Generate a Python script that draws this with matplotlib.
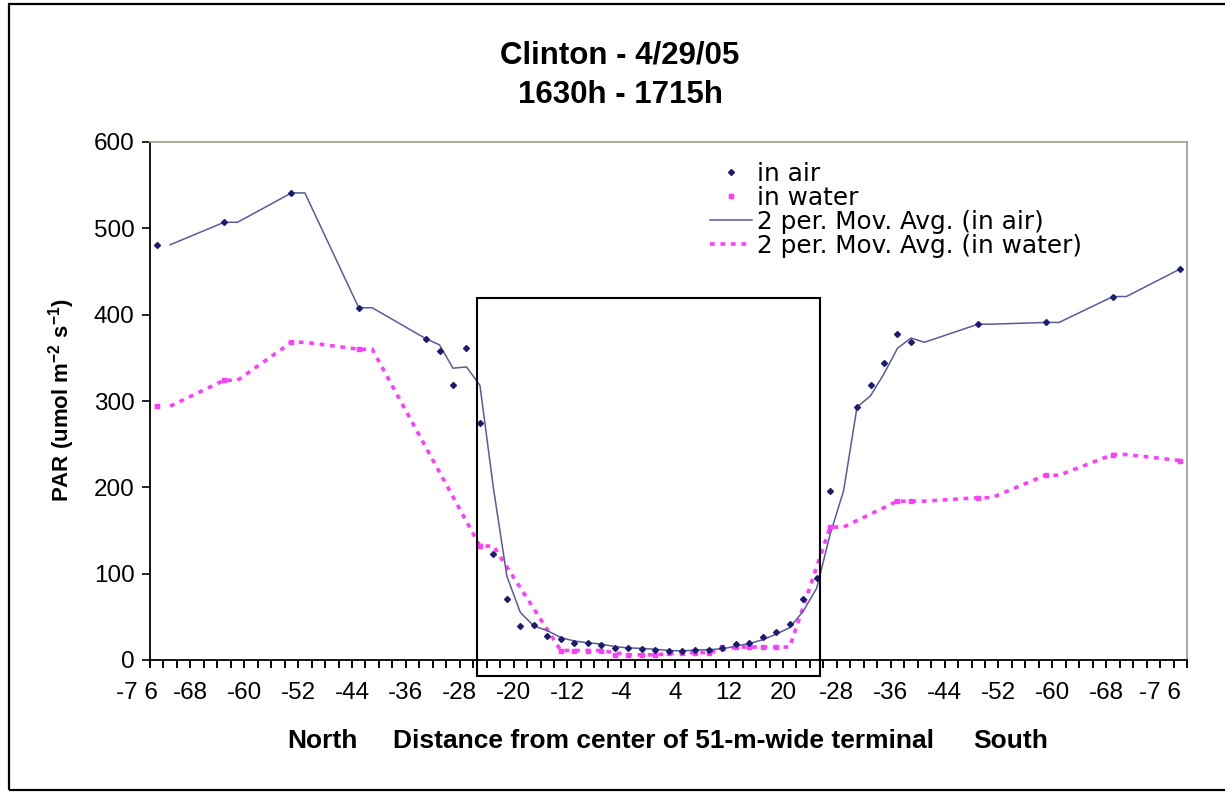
import numpy as np
import matplotlib
matplotlib.use("Agg")
import matplotlib.pyplot as plt
from matplotlib.patches import Rectangle
from matplotlib.ticker import MultipleLocator, FixedLocator

plt.rcParams['font.family'] = ['Liberation Sans', 'DejaVu Sans']
plt.rcParams['mathtext.fontset'] = 'custom'
plt.rcParams['mathtext.rm'] = 'Liberation Sans'
plt.rcParams['mathtext.bf'] = 'Liberation Sans:bold'

# Measurement positions (m from terminal centre) and PAR readings
air_pos = [-73, -63, -53, -43, -33, -31, -29, -27, -25, -23, -21, -19, -17, -15,
           -13, -11, -9, -7, -5, -3, -1, 1, 3, 5, 7, 9, 11, 13, 15, 17, 19, 21,
           23, 25, 27, 31, 33, 35, 37, 39, 49, 59, 69, 79]
air_par = [481, 507, 541, 408, 372, 358, 318, 361, 275, 123, 71, 39, 40, 28,
           24, 20, 20, 17, 14, 14, 13, 12, 10, 11, 12, 12, 14, 18, 20, 27, 33, 42,
           71, 95, 196, 293, 319, 344, 378, 368, 389, 391, 421, 453]

water_pos = [-73, -63, -53, -43, -25, -13, -11, -9, -7, -5, -3, -1, 1, 3, 5, 7, 9,
             11, 13, 15, 17, 19, 27, 37, 39, 49, 59, 69, 79]
water_par = [294, 324, 368, 360, 132, 11, 11, 11, 11, 6, 6, 6, 6, 8.5, 8.5, 8.5, 8.5,
             15, 15, 15, 15, 15, 154, 184, 184, 188, 214, 238, 231]

tick_pos = [-68, -60, -52, -44, -36, -28, -20, -12, -4, 4, 12, 20,
            28, 36, 44, 52, 60, 68, 76]
tick_labels = ['-68', '-60', '-52', '-44', '-36', '-28', '-20', '-12', '-4',
               '4', '12', '20', '-28', '-36', '-44', '-52', '-60', '-68', '-7 6']
edge_label_pos = -76
edge_label = '-7 6'

grid = np.arange(-73, 80, 2)


def moving_avg(pos, vals, period=2):
    """Spreadsheet-style moving average over a regular grid, skipping blanks."""
    series = np.full(grid.size, np.nan)
    idx = np.searchsorted(grid, pos)
    series[idx] = vals
    xs, ys = [], []
    for i in range(period - 1, grid.size):
        win = series[i - period + 1:i + 1]
        win = win[np.isfinite(win)]
        if win.size:
            xs.append(grid[i])
            ys.append(win.mean())
    return np.array(xs), np.array(ys)


W, H = 1225, 792
fig = plt.figure(figsize=(W / 100, H / 100), dpi=100)
ax = fig.add_axes([150 / W, 1 - 660 / H, (1187 - 150) / W, (660 - 142) / H])

navy = '#1b1b6f'
navy_line = '#5a5a96'
magenta = '#ff3cff'

ma_ax, ma_ay = moving_avg(air_pos, air_par)
ma_wx, ma_wy = moving_avg(water_pos, water_par)

h_wline, = ax.plot(ma_wx, ma_wy, color=magenta, lw=2.6, dashes=(1.3, 1.6),
                   solid_capstyle='butt', dash_capstyle='butt', zorder=2)
h_aline, = ax.plot(ma_ax, ma_ay, color=navy_line, lw=1.1, zorder=3)
h_water, = ax.plot(water_pos, water_par, ls='none', marker='s', ms=2.6,
                   color=magenta, mec=magenta, zorder=4)
h_air, = ax.plot(air_pos, air_par, ls='none', marker='D', ms=3.0,
                 color=navy, mec=navy, zorder=5)

# Terminal outline (51 m wide)
ax.add_patch(Rectangle((-25.5, -18.5), 51, 419.3 + 18.5, fill=False,
                       edgecolor='black', lw=1.5, clip_on=False, zorder=6))

ax.set_xlim(-74, 80)
ax.set_ylim(0, 600)

ax.yaxis.set_major_locator(MultipleLocator(100))
ax.tick_params(axis='y', direction='out', length=6, width=1.2, labelsize=17.5,
               pad=5, colors='black')
ax.xaxis.remove_overlapping_locs = False
ax.xaxis.set_major_locator(FixedLocator(tick_pos))
ax.set_xticklabels(tick_labels)
ax.xaxis.set_minor_locator(MultipleLocator(2))
ax.tick_params(axis='x', which='major', length=0, labelsize=17.5, pad=16)
ax.tick_params(axis='x', which='minor', direction='out', length=6, width=1.4)

# Leftmost distance label sits just beyond the axis start
ax.annotate(edge_label, xy=(edge_label_pos, 0), xycoords=('data', 'axes fraction'),
            xytext=(0, -16), textcoords='offset points', ha='center', va='top',
            fontsize=17.5, annotation_clip=False)

for side in ('left', 'bottom'):
    ax.spines[side].set_color('black')
    ax.spines[side].set_linewidth(1.3)
for side in ('top', 'right'):
    ax.spines[side].set_color('#a3a394')
    ax.spines[side].set_linewidth(1.3)

ax.legend([h_air, h_water, h_aline, h_wline],
          ['in air', 'in water', '2 per. Mov. Avg. (in air)',
           '2 per. Mov. Avg. (in water)'],
          loc='upper left', bbox_to_anchor=(0.540, 0.962), frameon=False,
          prop={'family': 'DejaVu Sans', 'size': 17.8},
          handlelength=1.7, handletextpad=0.2, labelspacing=0.0,
          numpoints=1, borderaxespad=0, borderpad=0)

fig.text(620 / W, 1 - 55 / H, 'Clinton - 4/29/05', ha='center', va='center',
         fontsize=22.5, fontweight='bold')
fig.text(620 / W, 1 - 95 / H, '1630h - 1715h', ha='center', va='center',
         fontsize=22.5, fontweight='bold')
fig.text(62 / W, 1 - 400 / H, r'PAR (umol m$^{\mathbf{-2}}$ s$^{\mathbf{-1}}$)',
         rotation=90, ha='center', va='center', fontsize=16, fontweight='bold')
fig.text(322 / W, 1 - 741 / H, 'North', ha='center', va='center',
         fontsize=19, fontweight='bold')
fig.text(664 / W, 1 - 741 / H, 'Distance from center of 51-m-wide terminal',
         ha='center', va='center', fontsize=19, fontweight='bold')
fig.text(1011 / W, 1 - 741 / H, 'South', ha='center', va='center',
         fontsize=19, fontweight='bold')

# Outer frame of the figure
fig.patches.append(Rectangle((9 / W, 2 / H), 1.05, 1 - 6 / H, transform=fig.transFigure,
                             fill=False, edgecolor='black', lw=1.6))

fig.savefig('out.png', dpi=100, facecolor='white')
